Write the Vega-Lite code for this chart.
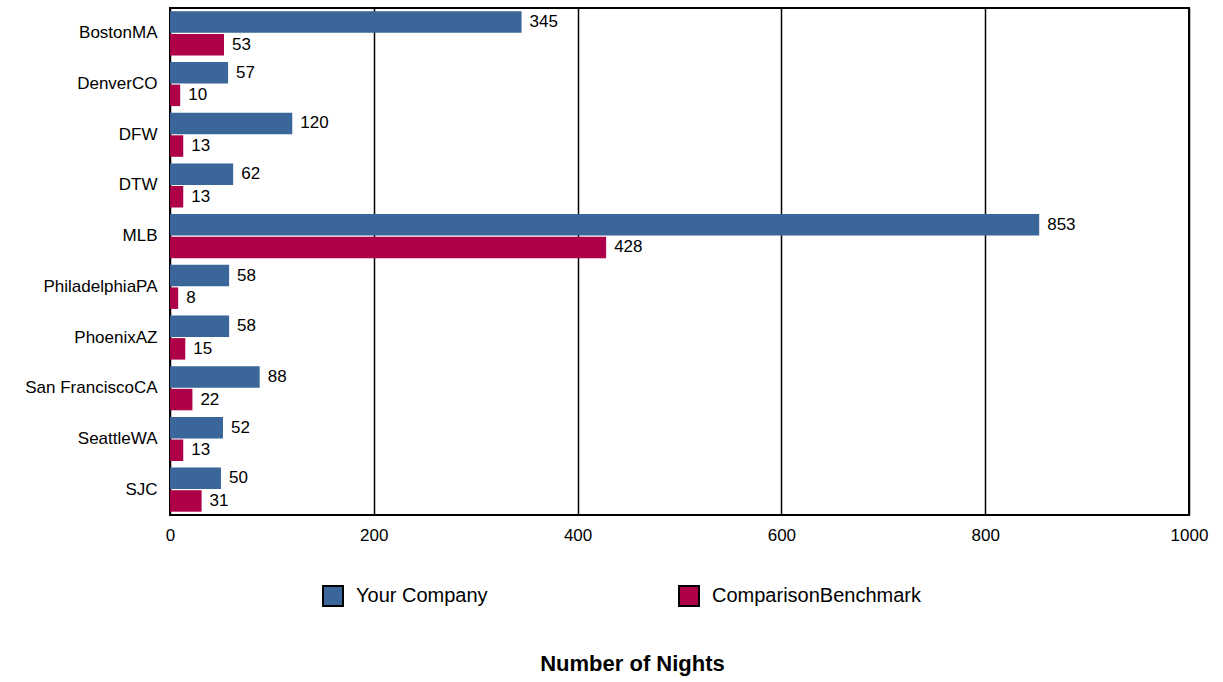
{
  "$schema": "https://vega.github.io/schema/vega-lite/v6.json",
  "width": 1019,
  "height": 507,
  "autosize": {"type": "none"},
  "padding": {"left": 170, "top": 8, "right": 34, "bottom": 167},
  "background": "white",
  "config": {
    "font": "Liberation Sans",
    "view": {"stroke": "black", "strokeWidth": 2},
    "axis": {"labelFont": "Liberation Sans", "labelColor": "black", "titleColor": "black"}
  },
  "data": {
    "values": [
      {"city": "BostonMA", "series": "Your Company", "nights": 345},
      {"city": "BostonMA", "series": "ComparisonBenchmark", "nights": 53},
      {"city": "DenverCO", "series": "Your Company", "nights": 57},
      {"city": "DenverCO", "series": "ComparisonBenchmark", "nights": 10},
      {"city": "DFW", "series": "Your Company", "nights": 120},
      {"city": "DFW", "series": "ComparisonBenchmark", "nights": 13},
      {"city": "DTW", "series": "Your Company", "nights": 62},
      {"city": "DTW", "series": "ComparisonBenchmark", "nights": 13},
      {"city": "MLB", "series": "Your Company", "nights": 853},
      {"city": "MLB", "series": "ComparisonBenchmark", "nights": 428},
      {"city": "PhiladelphiaPA", "series": "Your Company", "nights": 58},
      {"city": "PhiladelphiaPA", "series": "ComparisonBenchmark", "nights": 8},
      {"city": "PhoenixAZ", "series": "Your Company", "nights": 58},
      {"city": "PhoenixAZ", "series": "ComparisonBenchmark", "nights": 15},
      {"city": "San FranciscoCA", "series": "Your Company", "nights": 88},
      {"city": "San FranciscoCA", "series": "ComparisonBenchmark", "nights": 22},
      {"city": "SeattleWA", "series": "Your Company", "nights": 52},
      {"city": "SeattleWA", "series": "ComparisonBenchmark", "nights": 13},
      {"city": "SJC", "series": "Your Company", "nights": 50},
      {"city": "SJC", "series": "ComparisonBenchmark", "nights": 31}
    ]
  },
  "encoding": {
    "y": {
      "field": "city", "type": "nominal",
      "sort": ["BostonMA", "DenverCO", "DFW", "DTW", "MLB", "PhiladelphiaPA", "PhoenixAZ", "San FranciscoCA", "SeattleWA", "SJC"],
      "scale": {"paddingInner": 0.13, "paddingOuter": 0.065},
      "axis": {"title": null, "ticks": false, "domain": false, "labelFontSize": 17, "labelPadding": 13, "labelLimit": 170}
    },
    "yOffset": {
      "field": "series", "type": "nominal",
      "sort": ["Your Company", "ComparisonBenchmark"],
      "scale": {"paddingInner": 0.05}
    },
    "x": {
      "field": "nights", "type": "quantitative",
      "scale": {"domain": [0, 1000], "nice": false},
      "axis": {
        "title": "Number of Nights",
        "titleFontSize": 22, "titleFontWeight": "bold", "titleFont": "Liberation Sans",
        "titleX": 462, "titleY": 148, "titleBaseline": "middle",
        "values": [0, 200, 400, 600, 800, 1000], "format": "d",
        "grid": true, "gridColor": "black", "gridWidth": 1.5, "gridOpacity": 1,
        "ticks": false, "domain": false, "labelFlush": false, "labelOverlap": false,
        "labelFontSize": 17, "labelPadding": 12
      }
    }
  },
  "layer": [
    {
      "mark": {"type": "bar"},
      "encoding": {
        "color": {
          "field": "series", "type": "nominal",
          "sort": ["Your Company", "ComparisonBenchmark"],
          "scale": {"domain": ["Your Company", "ComparisonBenchmark"], "range": ["#3a6699", "#ae0049"]},
          "legend": {
            "title": null, "orient": "none", "direction": "horizontal",
            "legendX": 152, "legendY": 577,
            "symbolType": "square", "symbolSize": 400, "symbolStrokeColor": "black", "symbolStrokeWidth": 2,
            "symbolOpacity": 1,
            "labelFontSize": 20, "labelFont": "Liberation Sans", "labelColor": "black",
            "labelOffset": 12, "columnPadding": 187, "labelLimit": 400
          }
        }
      }
    },
    {
      "mark": {"type": "text", "align": "left", "baseline": "middle", "dx": 8, "fontSize": 17, "color": "black"},
      "encoding": {"text": {"field": "nights", "type": "quantitative"}}
    }
  ]
}
